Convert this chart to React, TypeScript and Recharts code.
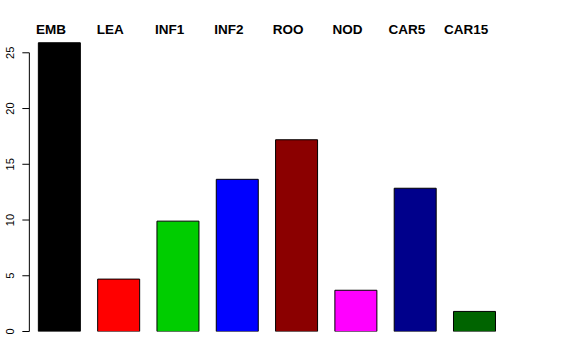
import React from 'react';
import { BarChart, Bar, XAxis, YAxis, Cell, ReferenceLine } from 'recharts';

const categories = ['EMB', 'LEA', 'INF1', 'INF2', 'ROO', 'NOD', 'CAR5', 'CAR15'];
const values = [25.9, 4.7, 9.9, 13.65, 17.2, 3.7, 12.85, 1.8];
const colors = ['#000000', '#FF0000', '#00CD00', '#0000FF', '#8B0000', '#FF00FF', '#00008B', '#006400'];
const yTicks = [0, 5, 10, 15, 20, 25];

const data = categories.map((name, i) => ({ name, value: values[i] }));

const FONT = '"Liberation Sans", Arial, Helvetica, sans-serif';

// labels sit above the plot, slightly left of the bar centres (like R's mtext)
const TopTick = (props: any) => {
  const { x, payload } = props;
  return (
    <text x={x - 8} y={34} textAnchor="middle" fontFamily={FONT} fontWeight="bold" fontSize={13.5} fill="#000">
      {payload.value}
    </text>
  );
};

const LeftTick = (props: any) => {
  const { y, payload } = props;
  const tx = 14;
  return (
    <text
      x={tx}
      y={y}
      transform={`rotate(-90, ${tx}, ${y})`}
      textAnchor="middle"
      fontFamily={FONT}
      fontSize={11}
      fill="#000"
    >
      {payload.value}
    </text>
  );
};

export default function App() {
  return (
    <div style={{ position: 'absolute', left: 0, top: 0, width: 576, height: 360, background: '#fff' }}>
      <BarChart width={576} height={360} data={data} margin={{ top: 10.5, right: 72.2, bottom: 28.5, left: 0 }}>
        <XAxis
          dataKey="name"
          orientation="top"
          height={20}
          axisLine={false}
          tickLine={false}
          tick={<TopTick />}
          interval={0}
        />
        <YAxis
          domain={[0, 27]}
          ticks={yTicks}
          width={29.35}
          axisLine={false}
          tickLine={{ stroke: '#000' }}
          tickSize={7}
          tick={<LeftTick />}
          allowDataOverflow
        />
        <ReferenceLine
          segment={[{ x: 'EMB', y: 0 }, { x: 'EMB', y: 25 }]}
          position="start"
          stroke="#000"
          ifOverflow="visible"
        />
        <Bar dataKey="value" barSize={42} stroke="#000" strokeWidth={1} isAnimationActive={false}>
          {data.map((d, i) => (
            <Cell key={d.name} fill={colors[i]} />
          ))}
        </Bar>
      </BarChart>
    </div>
  );
}
